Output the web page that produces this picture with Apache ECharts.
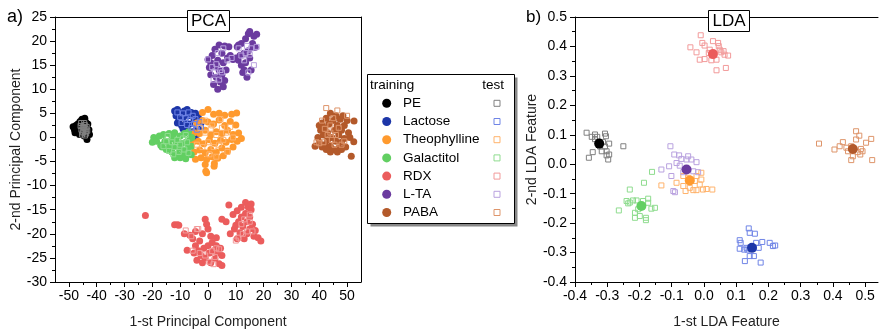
<!DOCTYPE html>
<html><head><meta charset="utf-8">
<script src="https://cdn.jsdelivr.net/npm/echarts@6/dist/echarts.min.js"></script>
<style>html,body{margin:0;padding:0;background:#fff}#c{width:879px;height:331px}</style>
</head><body><div id="c"></div>
<script>
// ---------- classes ----------
const classNames = ['PE','Lactose','Theophylline','Galactitol','RDX','L-TA','PABA'];
const trainColors = ['#000000','#1d36a8','#ff9a2e','#62cf62','#eb5c5c','#6b3b9f','#b3592a'];
const testColors  = ['#808080','#6f84e6','#ffb36c','#8fdc8f','#f29a9a','#b9a2df','#de956b'];

// ---------- tick labels ----------
const pcaXTicks = [-50,-40,-30,-20,-10,0,10,20,30,40,50];
const pcaXMinor = [-45,-35,-25,-15,-5,5,15,25,35,45];
const ldaXTicks = [-0.4,-0.3,-0.2,-0.1,0.0,0.1,0.2,0.3,0.4,0.5];
const ldaXMinor = [-0.35,-0.25,-0.15,-0.05,0.05,0.15,0.25,0.35,0.45];

// ---------- PCA training ----------
const pcaTrainPE = [[-48.5,2.2],[-48,1.6],[-47.5,2.5],[-47,1.2],[-46.8,2.8],[-46.2,0.6],[-46,3.3],[-45.5,1.8],[-45.3,3.8],[-45,2.6],[-44.5,0.3],[-44.3,4.0],[-44,3.2],[-43.8,1.5],[-43.5,-0.4],[-43.2,2.8],[-42.8,1.6],[-42.6,0.6],[-47.8,1.0],[-45.8,0.8],[-44.8,1.0],[-43.5,0.2]];
const pcaTrainLactose = [[-12,5.5],[-11.5,4.5],[-11,5.8],[-10.5,3.5],[-10,5],[-9.5,2.5],[-9,4.2],[-8.5,5.5],[-8,3],[-7.5,1.8],[-7,4.5],[-6.5,2.8],[-6,5.2],[-5.5,1.2],[-5,3.8],[-4.5,5],[-4,2.2],[-3.5,4.2],[-3,1.5],[-2.5,3],[-6,0.5],[-5,-0.2],[-11,3],[-9,1.8],[-7.5,5.8],[-4,0.6]];
const pcaTrainTheo = [[-2,5.2],[0,5.8],[2,4.8],[4,5],[6,4.6],[8.5,4.8],[10.3,5.1],[-4,3],[-2,3.5],[0,3.2],[2,2.8],[4,3.6],[6,2.5],[8,3.3],[10,2.6],[-5,1],[-3,0.8],[-1,1.5],[1,0.5],[3,1.2],[5,0.8],[7,1.5],[9,0.6],[11,0.9],[-5.5,-1],[-3.5,-0.8],[-1.5,-1.3],[0.5,-0.5],[2.5,-1.2],[4.5,-0.6],[6.5,-1],[8.5,-0.4],[10.5,-0.8],[12,-0.2],[-5,-3],[-3,-2.6],[-1,-3.2],[1,-2.5],[3,-3],[5,-2.2],[7,-2.8],[9,-2],[-4.5,-4.5],[-2.5,-4.2],[-0.5,-4.6],[1.5,-4],[3.5,-4.3],[5.5,-3.8],[-1,-5.6],[-0.8,-7],[-0.5,-7.3],[2.3,-5.4],[2.2,-6]];
const pcaTrainGal = [[-20,-1],[-19.5,0],[-18.5,-0.8],[-17.5,0.3],[-17,-1.6],[-16,0.6],[-15.5,-0.8],[-15,-2.5],[-14,0.8],[-14,-1.5],[-13,-0.3],[-13,-3],[-12.5,-2],[-12,1],[-11.5,-0.8],[-11,-3.5],[-10.5,-2.2],[-10,0.3],[-9.5,-1.2],[-9,-3.8],[-9,-2.6],[-8.5,0.8],[-8,-1],[-7.5,-3],[-7,-2],[-7,1.2],[-6.5,-0.2],[-6,-3.6],[-6,-1.8],[-5.8,0],[-10,-4.2],[-12,-4.2],[-8,-4.4],[-16.5,-2],[-12.5,0]];
const pcaTrainRDX = [[-22.5,-16.2],[-12,-18.1],[-11,-18.1],[-10.5,-18.2],[-8.5,-20],[-7.5,-23.4],[-6.5,-20.3],[-5.5,-21],[-5,-24],[-4.5,-22.5],[-4,-25.5],[-3.5,-23.5],[-3,-21.5],[-2.5,-24.5],[-2,-26],[-1.5,-23],[-1,-25],[-1,-17],[-0.5,-18],[0,-22.5],[0.5,-24],[1,-26],[1.5,-21.8],[2,-23.5],[2.5,-25.2],[3,-22.5],[3.5,-24],[4,-26.2],[4.5,-23],[5,-26.6],[0,-19],[-2,-20],[1,-20.5],[3,-20.8],[5,-24.5],[-4.5,-19.5],[5,-17],[6.5,-17.5],[7.5,-14],[8,-20],[9,-16],[9.5,-19],[10.5,-15.2],[10.5,-21],[11,-17.5],[11.5,-19.8],[12,-14.5],[12,-16.5],[12.5,-18.5],[13,-21],[13.5,-13.5],[13.5,-15.8],[14,-17.5],[14,-20],[14.5,-14.5],[15,-16.5],[15,-19],[15.5,-13.8],[16,-18],[16.5,-20.5],[17,-19.3],[18,-20.8],[19,-21.5],[15.5,-15],[10,-18.2]];
const pcaTrainLTA = [[0,16.2],[0.5,14.5],[1,13],[1.5,17],[2,15.2],[2,11],[2.5,18.3],[3,12.5],[3.5,16],[3.5,10],[4,19.2],[4,14],[4.5,11.5],[5,17.5],[5,13],[5.5,15.5],[6,19],[6,11.8],[6.5,14],[7,16.5],[7.5,18.8],[3,14.8],[5.5,10.5],[1,15.5],[8,17],[9,16.2],[10,16.5],[10.5,18.8],[11,19.2],[11.5,17],[12,15],[12,19.5],[12.5,13.5],[13,17.5],[13.5,20.5],[13.5,15.5],[14,12.5],[14.5,18],[14.5,21.5],[15,22],[15,16.5],[15.5,14],[16,19.5],[16,18.7],[16.5,21],[17.5,21.4],[17,18.7],[13,14],[11,16]];
const pcaTrainPABA = [[38.5,-1.8],[39.5,0],[40,-1],[40.5,1.5],[41,3],[41,-2],[41.5,0.5],[42,2],[42,-1.5],[42.5,4],[43,1],[43,-0.5],[43.5,2.8],[44,-1.8],[44,5],[44.5,0],[45,3.5],[45,-2.5],[45.5,1.5],[46,4.5],[46,-0.8],[46.5,2.5],[47,0.5],[47,-2.2],[47.5,3.8],[48,1.5],[48,-1],[48.5,4.5],[49,2.5],[49,-0.2],[49.5,-2],[50,3.5],[50.5,1],[51,0],[52.5,3.4],[52.4,-0.9],[51.5,-3.9],[40,2.5],[44,-3],[46.5,-3],[48,-2.5],[42.5,-2.5]];

// ---------- PCA test ----------
const pcaTestPE = [[-45.5,1.6],[-45,2.2],[-44.8,1.2],[-44.3,2.6],[-44,1.8],[-43.8,0.8],[-45.3,0.6],[-44.5,3.0],[-43.6,2.2],[-45.8,2.4],[-44.2,0.4],[-43.4,1.4],[-45,1.0],[-44.6,2.0],[-45.6,3.0],[-44,1.2]];
const pcaTestLactose = [[-11,5.2],[-10,4.2],[-9.5,3],[-9,5],[-8,4],[-7.5,2.6],[-7,5.2],[-6.5,3.6],[-6,2],[-5.5,4.5],[-5,2.8],[-4.5,3.8],[-4,1.6],[-3,3.2],[-2.5,2]];
const pcaTestTheo = [[-3,2],[-1,1],[0,-1],[1.5,2.5],[2,-2],[3,0.5],[4,-1.5],[5,2],[5.5,-0.5],[6.5,1],[7,-3],[8,2.2],[-2,-2],[-4,-1.5],[0.5,-3.5],[3,-4],[9,0],[-1,3.5],[4.5,3.8],[1,1.8]];
const pcaTestGal = [[-15,-0.8],[-14,-2.8],[-13,-1],[-12,-2],[-11,-0.5],[-10.5,-3],[-10,-1.5],[-9,-0.2],[-8.5,-2.5],[-7.5,-1],[-7,-3.2],[-14.5,0.3],[-12.5,-3.5],[-16,-1.8],[-8,0.5]];
const pcaTestRDX = [[-8,-19.3],[-6,-20.5],[-4,-19],[-3.5,-19],[-5.5,-23.5],[-3,-24],[-1,-24.5],[0.5,-25.8],[1.5,-23.6],[2.5,-24.8],[3,-23],[4,-23.2],[10,-21.4],[11,-20.8],[12,-18],[13,-17],[14,-19.5],[15,-16],[15,-17.5],[16,-19.5],[12.5,-20],[2,-26.3]];
const pcaTestLTA = [[0,16.2],[1.5,14.6],[2.5,13.5],[3,15.2],[4,12],[4.5,14],[5,13.5],[3.5,17.5],[5.5,18.5],[7,16],[8.5,16.5],[11,18.5],[12,17],[13,16],[13.5,17.5],[14,19],[15,17.2],[15.5,18.5],[16.5,15],[17.5,18.8],[14.5,13.5],[2,12]];
const pcaTestPABA = [[42.5,6.1],[46.5,5.6],[50,4.5],[41,3.5],[41.5,-1],[39,-1],[40,-1.2],[43,0.5],[44,1],[44.5,-0.5],[45.5,-1.5],[46,0.5],[47,2],[45,4],[48,-1.5],[42,1.8],[49,-0.8],[44,2.5]];

// ---------- LDA training (centroids) ----------
const ldaTrainPE = [[-0.325,0.070]];
const ldaTrainLactose = [[0.149,-0.284]];
const ldaTrainTheo = [[-0.044,-0.055]];
const ldaTrainGal = [[-0.194,-0.142]];
const ldaTrainRDX = [[0.028,0.374]];
const ldaTrainLTA = [[-0.054,-0.018]];
const ldaTrainPABA = [[0.462,0.052]];

// ---------- LDA test ----------
const ldaTestPE = [[-0.364,0.107],[-0.338,0.101],[-0.331,0.093],[-0.348,0.093],[-0.338,0.085],[-0.307,0.104],[-0.304,0.095],[-0.294,0.070],[-0.313,0.075],[-0.317,0.044],[-0.302,0.044],[-0.302,0.030],[-0.345,0.041],[-0.357,0.022],[-0.297,0.016],[-0.294,0.033],[-0.250,0.061],[-0.322,0.060],[-0.307,0.060]];
const ldaTestLactose = [[0.139,-0.218],[0.142,-0.233],[0.158,-0.236],[0.111,-0.258],[0.114,-0.267],[0.111,-0.287],[0.132,-0.284],[0.135,-0.290],[0.162,-0.267],[0.170,-0.284],[0.181,-0.264],[0.204,-0.267],[0.214,-0.278],[0.221,-0.276],[0.142,-0.312],[0.155,-0.312],[0.127,-0.329],[0.176,-0.334],[0.125,-0.290]];
const ldaTestTheo = [[-0.132,-0.072],[-0.085,-0.063],[-0.064,-0.074],[-0.057,-0.091],[-0.044,-0.080],[-0.033,-0.088],[-0.023,-0.088],[-0.008,-0.029],[-0.008,-0.052],[-0.003,-0.086],[0.008,-0.084],[0.026,-0.086],[-0.023,-0.040],[-0.028,-0.057],[-0.049,-0.046],[-0.013,-0.069],[-0.064,-0.040],[-0.039,-0.052]];
const ldaTestGal = [[-0.161,-0.026],[-0.186,-0.063],[-0.230,-0.086],[-0.264,-0.157],[-0.240,-0.125],[-0.235,-0.133],[-0.220,-0.123],[-0.209,-0.123],[-0.189,-0.125],[-0.173,-0.117],[-0.173,-0.131],[-0.152,-0.148],[-0.163,-0.151],[-0.214,-0.165],[-0.214,-0.182],[-0.199,-0.176],[-0.180,-0.182],[-0.180,-0.190],[-0.204,-0.153],[-0.230,-0.130]];
const ldaTestLTA = [[-0.104,0.061],[-0.092,0.033],[-0.108,-0.007],[-0.132,-0.018],[-0.101,-0.040],[-0.095,-0.091],[-0.090,-0.095],[-0.077,0.030],[-0.070,0.018],[-0.054,0.016],[-0.049,0.027],[-0.039,0.016],[-0.023,0.007],[-0.085,0.004],[-0.075,-0.005],[-0.064,-0.027],[-0.018,-0.027],[-0.033,-0.024]];
const ldaTestRDX = [[-0.010,0.438],[-0.005,0.412],[-0.042,0.397],[0.002,0.403],[-0.023,0.380],[-0.013,0.355],[0.002,0.357],[0.015,0.378],[0.023,0.353],[0.039,0.355],[0.039,0.319],[0.044,0.412],[0.046,0.401],[0.049,0.389],[0.054,0.380],[0.061,0.384],[0.075,0.369],[0.068,0.327],[0.028,0.418],[0.018,0.389],[0.064,0.372]];
const ldaTestPABA = [[0.357,0.070],[0.405,0.050],[0.421,0.061],[0.431,0.075],[0.442,0.056],[0.457,0.061],[0.472,0.112],[0.482,0.097],[0.472,0.084],[0.487,0.052],[0.503,0.073],[0.519,0.086],[0.522,0.014],[0.457,0.014],[0.462,0.027],[0.485,0.033],[0.447,0.044],[0.477,0.041],[0.492,0.044]];

const pcaTrain = [pcaTrainPE,pcaTrainLactose,pcaTrainTheo,pcaTrainGal,pcaTrainRDX,pcaTrainLTA,pcaTrainPABA];
const pcaTest  = [pcaTestPE,pcaTestLactose,pcaTestTheo,pcaTestGal,pcaTestRDX,pcaTestLTA,pcaTestPABA];
const ldaTrain = [ldaTrainPE,ldaTrainLactose,ldaTrainTheo,ldaTrainGal,ldaTrainRDX,ldaTrainLTA,ldaTrainPABA];
const ldaTest  = [ldaTestPE,ldaTestLactose,ldaTestTheo,ldaTestGal,ldaTestRDX,ldaTestLTA,ldaTestPABA];

const FONT = 'Liberation Sans, Arial, sans-serif';
const black = {color:'#000', width:1};

function mainX(grid, min, max, ticks, name, fmt){
  return {gridIndex:grid, type:'value', min:min, max:max, position:'bottom',
    axisLine:{show:true, onZero:false, lineStyle:black},
    axisTick:{show:true, customValues:ticks, length:5, inside:false, lineStyle:black},
    axisLabel:{show:true, customValues:ticks, margin:7, color:'#000', fontSize:14, fontFamily:FONT, formatter:fmt},
    splitLine:{show:false},
    name:name, nameLocation:'middle', nameGap:33,
    nameTextStyle:{color:'#222', fontSize:14, fontFamily:FONT}};
}
function minorX(grid, min, max, ticks){
  return {gridIndex:grid, type:'value', min:min, max:max, position:'bottom',
    axisLine:{show:false, onZero:false}, axisTick:{show:true, customValues:ticks, length:3, lineStyle:black},
    axisLabel:{show:false}, splitLine:{show:false}};
}
function topX(grid, min, max){
  return {gridIndex:grid, type:'value', min:min, max:max, position:'top',
    axisLine:{show:true, onZero:false, lineStyle:black}, axisTick:{show:false},
    axisLabel:{show:false}, splitLine:{show:false}};
}
function mainY(grid, min, max, interval, name, fmt){
  return {gridIndex:grid, type:'value', min:min, max:max, interval:interval, position:'left',
    axisLine:{show:true, onZero:false, lineStyle:black},
    axisTick:{show:true, length:5, lineStyle:black},
    minorTick:{show:true, splitNumber:2, length:3, lineStyle:black},
    axisLabel:{margin:8, color:'#000', fontSize:14, fontFamily:FONT, formatter:fmt},
    splitLine:{show:false},
    name:name, nameLocation:'middle', nameGap:32,
    nameTextStyle:{color:'#222', fontSize:14, fontFamily:FONT}};
}

const series = [];
pcaTrain.forEach((d,i)=>series.push({type:'scatter', xAxisIndex:0, yAxisIndex:0, data:d, symbol:'circle', symbolSize:7, itemStyle:{color:trainColors[i], opacity:1}, z:2}));
pcaTest.forEach((d,i)=>series.push({type:'scatter', xAxisIndex:0, yAxisIndex:0, data:d, symbol:'rect', symbolSize:5, itemStyle:{color:'rgba(0,0,0,0)', borderColor:testColors[i], borderWidth:1, opacity:1}, z:3}));
ldaTest.forEach((d,i)=>series.push({type:'scatter', xAxisIndex:3, yAxisIndex:2, data:d, symbol:'rect', symbolSize:5, itemStyle:{color:'rgba(0,0,0,0)', borderColor:testColors[i], borderWidth:1, opacity:1}, z:2}));
ldaTrain.forEach((d,i)=>series.push({type:'scatter', xAxisIndex:3, yAxisIndex:2, data:d, symbol:'circle', symbolSize:10, itemStyle:{color:trainColors[i], opacity:1}, z:3}));

const legendEls = [
  {type:'rect', shape:{x:370.5, y:77.5, width:147, height:149}, style:{fill:'#888', stroke:null}, z:90},
  {type:'rect', shape:{x:367.5, y:74.5, width:147, height:149}, style:{fill:'#fff', stroke:'#000', lineWidth:1}, z:91},
  {type:'text', x:370, y:85, style:{text:'training', font:'13.5px '+FONT, fill:'#000', align:'left', verticalAlign:'middle'}, z:92},
  {type:'text', x:504, y:85, style:{text:'test', font:'13.5px '+FONT, fill:'#000', align:'right', verticalAlign:'middle'}, z:92}
];
classNames.forEach((n,i)=>{
  const y = 103.3 + i*18.2;
  legendEls.push({type:'circle', shape:{cx:386.7, cy:y, r:4.5}, style:{fill:trainColors[i]}, z:92});
  legendEls.push({type:'text', x:403, y:y, style:{text:n, font:'13.5px '+FONT, fill:'#000', align:'left', verticalAlign:'middle'}, z:92});
  legendEls.push({type:'rect', shape:{x:494, y:y-3, width:6, height:6}, style:{fill:'none', stroke:testColors[i], lineWidth:1}, z:92});
});
const titleEls = [
  {type:'rect', shape:{x:187.5, y:10.5, width:42, height:21}, style:{fill:'#fff', stroke:'#000', lineWidth:1}, z:95},
  {type:'text', x:208.5, y:21.5, style:{text:'PCA', font:'17px '+FONT, fill:'#000', align:'center', verticalAlign:'middle'}, z:96},
  {type:'rect', shape:{x:708.5, y:10.5, width:41, height:21}, style:{fill:'#fff', stroke:'#000', lineWidth:1}, z:95},
  {type:'text', x:729, y:21.5, style:{text:'LDA', font:'17px '+FONT, fill:'#000', align:'center', verticalAlign:'middle'}, z:96},
  {type:'text', x:7, y:17, style:{text:'a)', font:'18px '+FONT, fill:'#000', align:'left', verticalAlign:'middle'}, z:96},
  {type:'text', x:526, y:17, style:{text:'b)', font:'17px '+FONT, fill:'#000', align:'left', verticalAlign:'middle'}, z:96}
];

const chart = echarts.init(document.getElementById('c'), null, {renderer:'canvas'});
chart.setOption({
  animation:false,
  backgroundColor:'#fff',
  grid:[{left:55, top:17, width:306, height:265, outerBoundsMode:'none', containLabel:false},
        {left:575, top:17, width:303, height:265, outerBoundsMode:'none', containLabel:false}],
  xAxis:[
    mainX(0,-55,55,pcaXTicks,'1-st Principal Component'),
    minorX(0,-55,55,pcaXMinor),
    topX(0,-55,55),
    mainX(1,-0.4,0.54,ldaXTicks,'1-st LDA Feature', v=>v.toFixed(1)),
    minorX(1,-0.4,0.54,ldaXMinor),
    topX(1,-0.4,0.54)
  ],
  yAxis:[
    mainY(0,-30,25,5,'2-nd Principal Component'),
    {gridIndex:0, type:'value', min:-30, max:25, position:'right', axisLine:{show:true, onZero:false, lineStyle:black}, axisTick:{show:false}, axisLabel:{show:false}, splitLine:{show:false}},
    mainY(1,-0.4,0.5,0.1,'2-nd LDA Feature', v=>v.toFixed(1))
  ],
  series:series,
  graphic:{elements: legendEls.concat(titleEls)}
});
</script>
</body></html>
